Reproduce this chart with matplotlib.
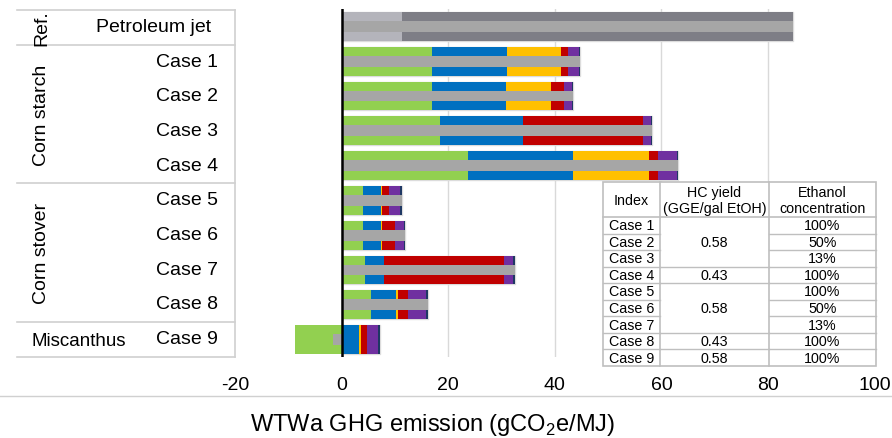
import matplotlib
matplotlib.use('Agg')
import matplotlib.pyplot as plt
from matplotlib.patches import Rectangle
import numpy as np

plt.rcParams['font.family'] = ['Liberation Sans', 'DejaVu Sans']
plt.rcParams['axes.unicode_minus'] = False
plt.rcParams['mathtext.fontset'] = 'custom'
plt.rcParams['mathtext.rm'] = 'Liberation Sans'

# data (gCO2e/MJ)
cases = ['Case 1', 'Case 2', 'Case 3', 'Case 4', 'Case 5',
         'Case 6', 'Case 7', 'Case 8', 'Case 9']
petro_light = 11.3
petro_dark = 73.4
seg_green = [16.9, 17.0, 18.5, 23.7, 3.95, 3.95, 4.4, 5.6, -8.75]
seg_blue = [14.1, 13.8, 15.5, 19.7, 3.35, 3.35, 3.55, 4.6, 3.3]
seg_yellow = [10.2, 8.4, 0.0, 14.2, 0.25, 0.25, 0.0, 0.4, 0.3]
seg_red = [1.3, 2.5, 22.5, 1.8, 1.4, 2.5, 22.55, 1.8, 1.2]
seg_purple = [2.0, 1.6, 1.5, 3.5, 2.05, 1.6, 1.6, 3.4, 2.0]
seg_navy = [0.3, 0.2, 0.3, 0.3, 0.25, 0.3, 0.4, 0.4, 0.4]

# table inset
tab_index = cases
tab_yield = ['0.58', '0.43', '0.58', '0.43', '0.58']
tab_yield_rows = [(0, 3), (3, 4), (4, 7), (7, 8), (8, 9)]
tab_conc = ['100%', '50%', '13%', '100%', '100%', '50%', '13%', '100%', '100%']

seg_colors = ['#92D050', '#0070C0', '#FFC000', '#C00000', '#7030A0', '#1F3864']
net_color = '#A6A6A6'

fig = plt.figure(figsize=(8.92, 4.39), dpi=100)
W, H = 892, 439
ax = fig.add_axes([235 / W, 1 - 358 / H, (874.6 - 235) / W, 348 / H])

bh = 0.83
nh = 0.31

# petroleum jet row
ax.barh(0, petro_light + petro_dark, height=bh, color='#DCDCDC', edgecolor='#DCDCDC', lw=1, zorder=2)
ax.barh(0, petro_light, height=bh, color='#B4B4BB', zorder=3)
ax.barh(0, petro_dark, left=petro_light, height=bh, color='#7E7E86', zorder=3)
ax.barh(0, petro_light + petro_dark, height=nh, color=net_color, zorder=4)

segs = np.array([seg_green, seg_blue, seg_yellow, seg_red, seg_purple, seg_navy])
ypos = np.arange(1, len(cases) + 1)
pos_left = np.zeros(len(cases))
neg_left = np.zeros(len(cases))
pos_tot = np.where(segs > 0, segs, 0).sum(axis=0)
ax.barh(ypos, pos_tot, height=bh, color='#DCDCDC', edgecolor='#DCDCDC', lw=1, zorder=2)
for vals, c in zip(segs, seg_colors):
    lefts = np.where(vals >= 0, pos_left, neg_left + vals)
    ax.barh(ypos, np.abs(vals), left=lefts, height=bh, color=c, zorder=3)
    pos_left = pos_left + np.where(vals > 0, vals, 0)
    neg_left = neg_left + np.where(vals < 0, vals, 0)
net = segs.sum(axis=0)
ax.barh(ypos, net, height=nh, color=net_color, zorder=4)

ax.axvline(0, color='black', lw=1.8, zorder=5)
ax.set_xlim(-20, 100)
ax.set_ylim(9.5, -0.5)
ax.set_xticks([-20, 0, 20, 40, 60, 80, 100])
ax.set_yticks([])
ax.tick_params(axis='x', length=0, pad=14, labelsize=14)
for x in [20, 40, 60, 80]:
    ax.axvline(x, color='#D9D9D9', lw=1, zorder=1)
for s in ax.spines.values():
    s.set_visible(False)

# overlay in pixel coords for the side table, inset table and labels
ov = fig.add_axes([0, 0, 1, 1])
ov.set_xlim(0, W)
ov.set_ylim(H, 0)
ov.axis('off')
ov.patch.set_alpha(0)
ov.set_zorder(5)

lc = '#D0D0D0'
for y in [10.7, 45.7, 184.3, 323.3, 357.7]:
    ov.plot([16.7, 235], [y, y], color=lc, lw=1.2)
ov.plot([235, 235], [10.7, 357.7], color=lc, lw=1.2)

row_h = 34.7
ov.text(42, 28, 'Ref.', rotation=90, ha='center', va='center', fontsize=14)
ov.text(154, 28, 'Petroleum jet', ha='center', va='center', fontsize=14)
ov.text(42, 115, 'Corn starch', rotation=90, ha='center', va='center', fontsize=14)
ov.text(42, 253, 'Corn stover', rotation=90, ha='center', va='center', fontsize=14)
ov.text(79, 342, 'Miscanthus', ha='center', va='center', fontsize=13.5)
for i, c in enumerate(cases):
    ov.text(218, 10 + row_h * (i + 1.5), c, ha='right', va='center', fontsize=14)

ov.plot([0, W], [397, 397], color=lc, lw=1)
fig.text(433 / W, 1 - 425 / H, r'WTWa GHG emission (gCO$_\mathregular{2}$e/MJ)',
         ha='center', va='center', fontsize=17)

# inset table
tx = [603, 660, 769, 876]
ty0, ty1, tyb = 183, 218, 367
rh = (tyb - ty1) / 9
tc = '#BFBFBF'
fs = 10.3
ov.add_patch(Rectangle((tx[0], ty0), tx[3] - tx[0], tyb - ty0, fc='white', ec=tc, lw=1.2))
for x in tx[1:3]:
    ov.plot([x, x], [ty0, tyb], color=tc, lw=1.2)
ov.plot([tx[0], tx[3]], [ty1, ty1], color=tc, lw=1.2)
for i in range(1, 9):
    y = ty1 + rh * i
    ov.plot([tx[0], tx[1]], [y, y], color=tc, lw=1)
    ov.plot([tx[2], tx[3]], [y, y], color=tc, lw=1)
for (a, b), v in zip(tab_yield_rows, tab_yield):
    if b < 9:
        ov.plot([tx[1], tx[2]], [ty1 + rh * b, ty1 + rh * b], color=tc, lw=1)
    ov.text((tx[1] + tx[2]) / 2, ty1 + rh * (a + b) / 2, v, ha='center', va='center', fontsize=fs)
hy = (ty0 + ty1) / 2 + 0.5
ov.text((tx[0] + tx[1]) / 2, hy, 'Index', ha='center', va='center', fontsize=fs)
ov.text((tx[1] + tx[2]) / 2, hy, 'HC yield\n(GGE/gal EtOH)', ha='center', va='center',
        fontsize=fs, linespacing=1.15)
ov.text((tx[2] + tx[3]) / 2, hy, 'Ethanol\nconcentration', ha='center', va='center',
        fontsize=fs, linespacing=1.15)
for i, (n, c) in enumerate(zip(tab_index, tab_conc)):
    yc = ty1 + rh * (i + 0.5)
    ov.text((tx[0] + tx[1]) / 2, yc, n, ha='center', va='center', fontsize=fs)
    ov.text((tx[2] + tx[3]) / 2, yc, c, ha='center', va='center', fontsize=fs)

fig.savefig('out.png', dpi=100)
